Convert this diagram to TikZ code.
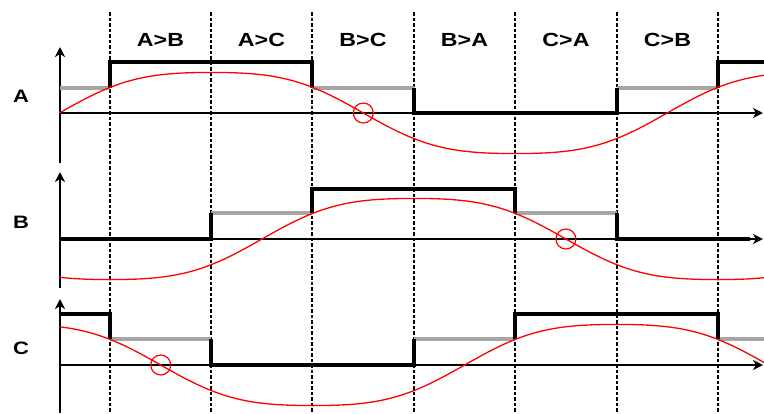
\documentclass[tikz,border=0pt]{standalone}
\usepackage{fontspec}
\setmainfont{Liberation Sans}
\newfontfamily\lblfont[FakeStretch=1.22]{Liberation Sans}
\usetikzlibrary{arrows.meta}
\begin{document}
\begin{tikzpicture}[x=1pt,y=-1pt,
  declare function={bemf(\t)=(sin(\t)+0.08*sin(3*\t))/0.92;},
  gridln/.style={black, line width=1.3pt, dash pattern=on 3.5pt off 2pt},
  axisln/.style={black, line width=2pt, -{Stealth[length=10pt,width=10pt,inset=3pt]}},
  hiln/.style={black, line width=4pt, line join=miter},
  midln/.style={black!35, line width=3.5pt},
  emf/.style={red, line width=1.3pt},
  zc/.style={draw=red, line width=1.2pt, circle, minimum size=20pt, inner sep=0pt},
  hdr/.style={font=\lblfont\bfseries\fontsize{19}{19}\selectfont, inner sep=0pt},
  phase/.style={font=\lblfont\bfseries\fontsize{18}{18}\selectfont, inner sep=0pt}]
\useasboundingbox (0,0) rectangle (764,413);
\clip (0,0) rectangle (764,413);
% dashed sector boundaries
\foreach \gx in {110,211,312,414,515,617,718}
  \draw[gridln] (\gx,12) -- (\gx,413);
% headers
\node[hdr] (h1) at (160.5,40) {A>B};
\node[hdr] (h2) at (261.5,40) {A>C};
\node[hdr] (h3) at (363,40) {B>C};
\node[hdr] (h4) at (464.5,40) {B>A};
\node[hdr] (h5) at (566,40) {C>A};
\node[hdr] (h6) at (667.5,40) {C>B};
% phase labels
\node[phase] (la) at (21,96) {A};
\node[phase] (lb) at (21,222) {B};
\node[phase] (lc) at (21,348) {C};
% axes
\draw[axisln] (60,163) -- (60,47);
\draw[axisln] (60,113) -- (763,113);
\draw[axisln] (60,288) -- (60,172);
\draw[axisln] (60,239) -- (763,239);
\draw[axisln] (60,413) -- (60,299);
\draw[axisln] (60,365) -- (763,365);
% phase A
\draw[midln] (60,88) -- (110,88);
\draw[midln] (312,88) -- (414,88);
\draw[midln] (617,88) -- (718,88);
\draw[hiln] (110,88) -- (110,62) -- (312,62) -- (312,88);
\draw[hiln] (414,88) -- (414,113) -- (617,113) -- (617,88);
\draw[hiln] (718,88) -- (718,62) -- (770,62);
% phase B
\draw[midln] (211,213) -- (312,213);
\draw[midln] (515,213) -- (617,213);
\draw[hiln] (60,239) -- (211,239) -- (211,213);
\draw[hiln] (312,213) -- (312,189) -- (515,189) -- (515,213);
\draw[hiln] (617,213) -- (617,239) -- (750,239);
% phase C
\draw[midln] (110,339) -- (211,339);
\draw[midln] (414,339) -- (515,339);
\draw[midln] (718,339) -- (770,339);
\draw[hiln] (60,314) -- (110,314) -- (110,339);
\draw[hiln] (211,339) -- (211,365) -- (414,365) -- (414,339);
\draw[hiln] (515,339) -- (515,314) -- (718,314) -- (718,339);
% back-EMF curves
\draw[emf] plot[domain=59.4:770, samples=240, smooth] (\x, {113-40.6*bemf((\x-59.4)/101.3*60)});
\draw[emf] plot[domain=59.4:770, samples=240, smooth] (\x, {239-40.6*bemf((\x-59.4)/101.3*60-120)});
\draw[emf] plot[domain=59.4:770, samples=240, smooth] (\x, {365-40.6*bemf((\x-59.4)/101.3*60+120)});
% zero crossings
\node[zc] (za) at (363.3,113) {};
\node[zc] (zb) at (565.9,239) {};
\node[zc] (zcc) at (160.7,365) {};
\end{tikzpicture}
\end{document}
